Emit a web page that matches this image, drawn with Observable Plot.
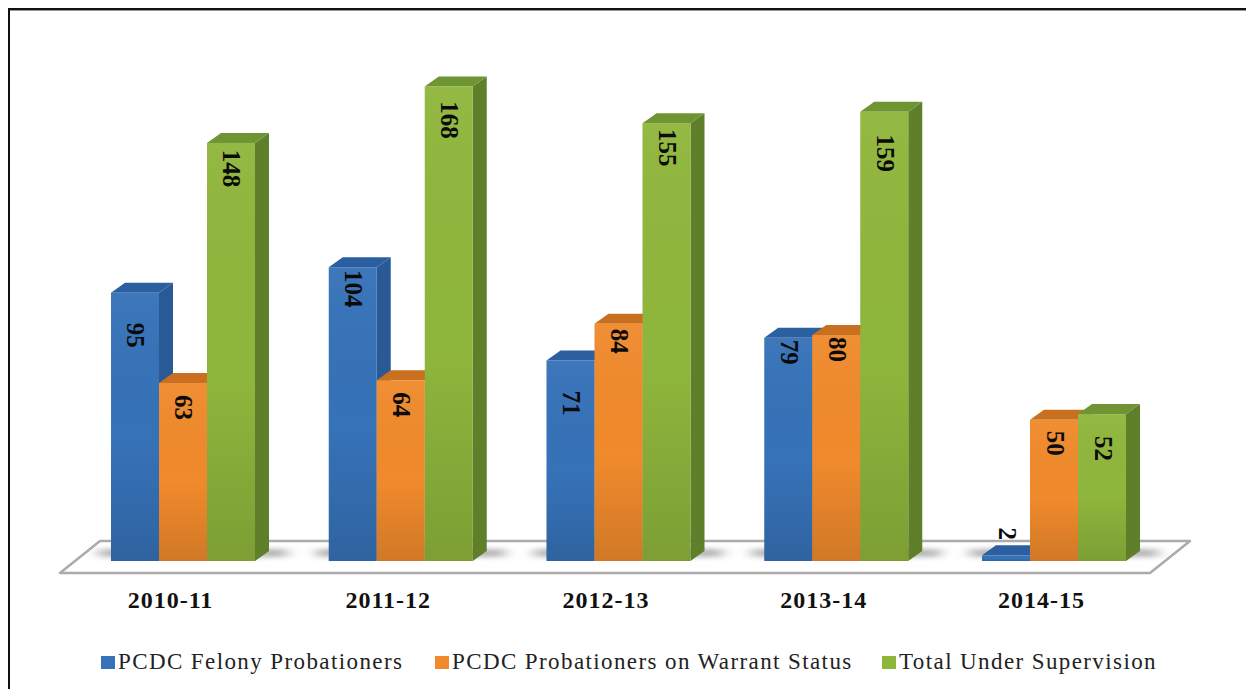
<!DOCTYPE html>
<html>
<head>
<meta charset="utf-8">
<script src="https://cdn.jsdelivr.net/npm/d3@7"></script>
<script src="https://cdn.jsdelivr.net/npm/@observablehq/plot@0.6"></script>
<style>
  html, body { margin: 0; padding: 0; background: #fff; }
  #page { position: relative; width: 1246px; height: 689px; overflow: hidden; background: #fff; }
  #edge { position: absolute; left: 8px; top: 8px; right: -10px; bottom: -10px;
    border-top: 2px solid #111; border-left: 2px solid #111; box-shadow: inset 0 1px 0 #999; pointer-events: none; }
  #legend { position: absolute; left: 0; top: 640px; width: 1246px; height: 49px;
    font: 23px "Liberation Serif", serif; letter-spacing: 1.4px; color: #222; }
  #legend .item { position: absolute; top: 9px; white-space: nowrap; display: flex; align-items: center; }
  #legend .sw { width: 14px; height: 13px; margin-right: 3px; display: inline-block; }
  svg { display: block; }
</style>
</head>
<body>
<div id="page"><div id="chart"></div><div id="legend"></div><div id="edge"></div></div>
<script>
const years = ["2010-11", "2011-12", "2012-13", "2013-14", "2014-15"];
const seriesNames = ["PCDC Felony Probationers", "PCDC Probationers on Warrant Status", "Total Under Supervision"];
const felony = [95, 104, 71, 79, 2];
const warrant = [63, 64, 84, 80, 50];
const total = [148, 168, 155, 159, 52];
const colors = ["#3672b8", "#f08a2c", "#8fb63c"];
const sideColors = ["#2a5a96", "#b8651a", "#5f7f2b"];
const topColors = ["#2b5f9f", "#c8701f", "#6f9433"];
// how far each value label sits below its bar's top, in pixels
const labelDrop = [
  [42, 21, 42, 14, -22],
  [24, 24, 17, 14, 23],
  [25, 33, 24, 41, 34]
];

const rows = seriesNames.flatMap((s, i) =>
  [felony, warrant, total][i].map((v, j) => ({year: years[j], series: s, value: v, drop: labelDrop[i][j]})));

const pxPerUnit = 2.825, depthX = 14, depthY = 10;
const svgNS = "http://www.w3.org/2000/svg";

function extrude(index, scales, values, dimensions, context, next) {
  const g = next(index, scales, values, dimensions, context);
  for (const rect of [...g.querySelectorAll("rect")]) {
    const x = +rect.getAttribute("x"), y = +rect.getAttribute("y");
    const w = +rect.getAttribute("width"), h = +rect.getAttribute("height");
    const k = colors.indexOf(rect.getAttribute("fill"));
    const side = document.createElementNS(svgNS, "polygon");
    side.setAttribute("points", `${x + w},${y} ${x + w + depthX},${y - depthY} ${x + w + depthX},${y + h - depthY} ${x + w},${y + h}`);
    side.setAttribute("fill", sideColors[k]);
    const top = document.createElementNS(svgNS, "polygon");
    top.setAttribute("points", `${x},${y} ${x + depthX},${y - depthY} ${x + w + depthX},${y - depthY} ${x + w},${y}`);
    top.setAttribute("fill", topColors[k]);
    const shade = document.createElementNS(svgNS, "rect");
    for (const a of ["x", "y", "width", "height"]) shade.setAttribute(a, rect.getAttribute(a));
    shade.setAttribute("fill", "url(#barShade)");
    rect.before(side, top);
    rect.after(shade);
  }
  return g;
}

const plot = Plot.plot({
  width: 1246,
  height: 640,
  marginTop: 52.5,
  marginBottom: 79,
  marginLeft: 111,
  marginRight: 120,
  style: {background: "transparent"},
  fx: {domain: years, padding: 0.3387, round: false, label: null, axis: null},
  x: {domain: seriesNames, padding: 0, round: false, axis: null},
  y: {domain: [0, 180], axis: null},
  color: {domain: seriesNames, range: colors},
  marks: [
    Plot.barY(rows, {fx: "year", x: "series", y: "value", fill: "series", render: extrude}),
    Plot.text(rows, {
      fx: "year", x: "series", y: d => d.value - d.drop / pxPerUnit,
      text: d => String(d.value), rotate: 90, fontSize: 25, fontWeight: "bold",
      fontFamily: "Liberation Serif", fill: "#0b0b0b"
    }),
    Plot.axisFx({
      domain: years, anchor: "bottom", tickSize: 0, tickPadding: 29, dx: -13, label: null,
      fontSize: 24, fontWeight: "bold", fontFamily: "Liberation Serif", fill: "#111"
    })
  ]
});
document.getElementById("chart").append(plot);

// floor plate, shadows and gradients, placed from the chart's own scales
const svg = d3.select(plot);
const fx = plot.scale("fx"), y = plot.scale("y");
const base = y.apply(0);
const firstX = fx.apply(years[0]), lastX = fx.apply(years[years.length - 1]);
const bandW = fx.bandwidth;
const under = svg.insert("g", ":first-child");
const defs = under.append("defs");
const grad = defs.append("linearGradient").attr("id", "barShade").attr("x1", 0).attr("x2", 0).attr("y1", 0).attr("y2", 1);
grad.append("stop").attr("offset", 0).attr("stop-color", "#fff").attr("stop-opacity", 0.04);
grad.append("stop").attr("offset", 0.55).attr("stop-color", "#000").attr("stop-opacity", 0);
grad.append("stop").attr("offset", 1).attr("stop-color", "#000").attr("stop-opacity", 0.13);
defs.append("filter").attr("id", "soft").attr("x", "-20%").attr("y", "-100%").attr("width", "140%").attr("height", "300%")
  .append("feGaussianBlur").attr("stdDeviation", "7 2.5");
under.append("polygon")
  .attr("points", [
    [firstX - 51, base + 12], [lastX + bandW + 24, base + 12],
    [lastX + bandW + 64, base - 20], [firstX - 11, base - 20]
  ].join(" "))
  .attr("fill", "#fff").attr("stroke", "#ababab").attr("stroke-width", 2.5).attr("stroke-linejoin", "round");
for (const yr of years) {
  under.append("rect")
    .attr("x", fx.apply(yr) - 12).attr("y", base - 12)
    .attr("width", bandW + 12 + 32).attr("height", 8)
    .attr("fill", "#b4b4b4").attr("filter", "url(#soft)");
}

// letter-spacing on tick labels
svg.selectAll("text").filter(function () { return years.includes(this.textContent); })
  .style("letter-spacing", "1px");

// legend
const legendLeft = [101, 435, 882];
const legend = d3.select("#legend");
seriesNames.forEach((s, i) => {
  const item = legend.append("div").attr("class", "item").style("left", legendLeft[i] + "px");
  item.append("span").attr("class", "sw").style("background", colors[i]);
  item.append("span").text(s);
});
</script>
</body>
</html>
